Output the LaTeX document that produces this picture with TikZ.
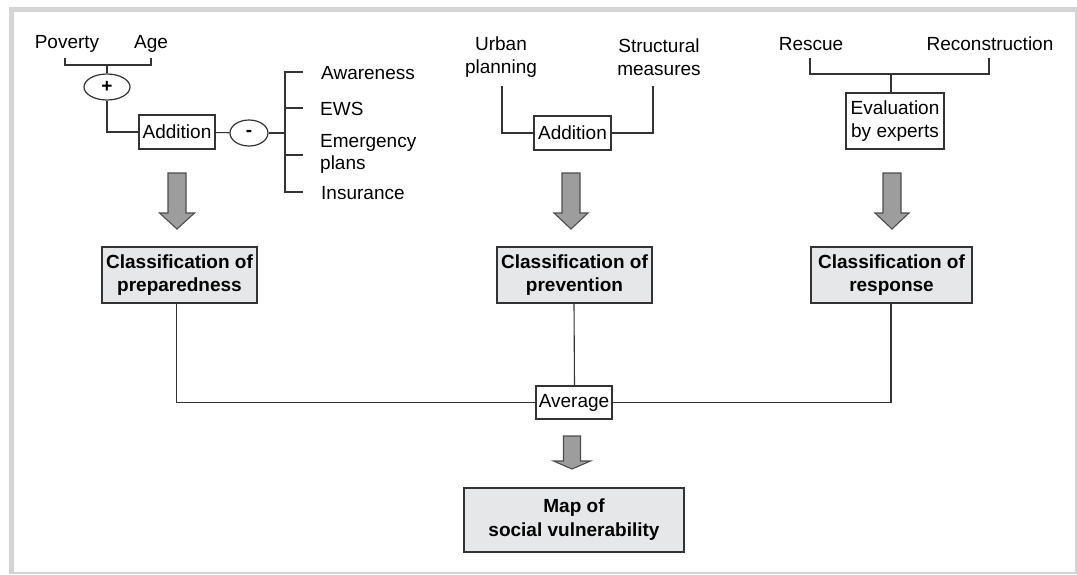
\documentclass[tikz,border=0pt]{standalone}
\usepackage{fontspec}
\setmainfont{Liberation Sans}
\usetikzlibrary{shapes.geometric}
\definecolor{frame}{HTML}{D4D4D4}
\definecolor{ln}{HTML}{333333}
\definecolor{boxfill}{HTML}{E6E7E8}
\definecolor{arrfill}{HTML}{9D9D9D}
\definecolor{arrdraw}{HTML}{4D4D4D}
\newcommand\fatarrow[6]{% x, top, headstart, tip, shaft half, head half
  \filldraw[fill=arrfill,draw=arrdraw,line width=1.1pt,line join=miter]
  ({#1-#5},#2) -- ({#1+#5},#2) -- ({#1+#5},#3) -- ({#1+#6},#3) -- (#1,#4)
  -- ({#1-#6},#3) -- ({#1-#5},#3) -- cycle;}
\begin{document}
\begin{tikzpicture}[x=1pt,y=-1pt,
  every node/.style={font=\fontsize{19}{22.5}\selectfont, text=black},
  lbl/.style={inner sep=0pt, align=center},
  wbox/.style={draw=ln, line width=1.2pt, fill=white, inner sep=0pt, align=center},
  gbox/.style={draw=ln, line width=1.4pt, fill=boxfill, inner sep=0pt, align=center,
     font=\fontsize{19}{22.5}\selectfont\bfseries},
  oval/.style={ellipse, draw=ln, line width=1.2pt, fill=white, inner sep=0pt,
     font=\fontsize{19}{22.5}\selectfont\bfseries},
  conn/.style={draw=ln, line width=1.1pt}]
\useasboundingbox (0,0) rectangle (1077,574);
% frame
\fill[frame] (9,7) rectangle (1077,574);
\fill[white] (14,12) rectangle (1075,572);

% ---------- left: preparedness ----------
\node[lbl] (pov) at (67,44) {Poverty};
\node[lbl] (age) at (151,44) {Age};
\coordinate (pvL) at (65,58);
\coordinate (agR) at (151,58);
\coordinate (pj) at (107,65);
\node[oval, minimum width=46pt, minimum height=26pt] (plus) at (107,87) {+};
\node[wbox, minimum width=76pt, minimum height=34pt] (add1) at (177,132) {Addition};
\node[oval, minimum width=38pt, minimum height=26pt] (minus) at (249,133) {-};
\coordinate (mj) at (285,133);
\coordinate (t1) at (303,72);
\coordinate (t2) at (303,108);
\coordinate (t3) at (303,155);
\coordinate (t4) at (303,192);
\node[lbl, anchor=west] (aw) at (321,73) {Awareness};
\node[lbl, anchor=west] (ews) at (320,109) {EWS};
\node[lbl, anchor=west, align=left] (emp) at (320,154) {Emergency\\plans};
\node[lbl, anchor=west] (ins) at (321,193) {Insurance};

\draw[conn] (pvL) |- (pj) -| (agR);
\draw[conn] (pj) -- (plus);
\draw[conn] (plus) |- (add1);
\draw[conn] (add1) -- (minus);
\draw[draw=ln, line width=2.6pt] (minus) -- (mj);
\draw[conn] (t1) -- ++(-18,0) |- (t4);
\draw[conn] (t2) -- ++(-18,0);
\draw[conn] (t3) -- ++(-18,0);

\fatarrow{177}{173}{213}{229}{9}{17.5}
\node[gbox, minimum width=155pt, minimum height=56pt] (prep) at (179.5,275) {Classification of\\preparedness};

% ---------- middle: prevention ----------
\node[lbl] (urb) at (501,57) {Urban\\planning};
\node[lbl] (str) at (659,57) {Structural\\measures};
\coordinate (u1) at (502,86);
\coordinate (s1) at (653,86);
\node[wbox, minimum width=77pt, minimum height=34pt] (add2) at (572.5,133) {Addition};
\draw[conn] (u1) |- (add2);
\draw[conn] (s1) |- (add2);
\fatarrow{571}{173}{213}{229}{9}{17}
\node[gbox, minimum width=155pt, minimum height=56pt] (prev) at (574.5,275) {Classification of\\prevention};

% ---------- right: response ----------
\node[lbl] (res) at (811,44) {Rescue};
\node[lbl] (rec) at (990,44) {Reconstruction};
\coordinate (r1) at (810,58);
\coordinate (r2) at (989,58);
\coordinate (rj) at (891,74);
\node[wbox, minimum width=98pt, minimum height=56pt] (eval) at (895,121) {Evaluation\\by experts};
\draw[conn] (r1) |- (rj) -| (r2);
\draw[conn] (rj) -- (rj |- eval.north);
\fatarrow{892}{173}{213}{229}{9}{17}
\node[gbox, minimum width=161pt, minimum height=56pt] (resp) at (891.5,275) {Classification of\\response};

% ---------- bottom ----------
\node[wbox, minimum width=76pt, minimum height=33pt] (avg) at (574,402.5) {Average};
\draw[conn] ([xshift=-3pt]prep.south) |- (avg);
\draw[conn] ([xshift=-0.5pt]prev.south) -- (prev.south |- avg.north);
\draw[conn] ([xshift=-0.5pt]resp.south) |- (avg);
\fatarrow{572}{436}{461}{469}{8.5}{18.5}
\node[gbox, minimum width=220pt, minimum height=64pt, font=\fontsize{19}{24}\selectfont\bfseries] (map) at (574,520) {Map of\\social vulnerability};
\end{tikzpicture}
\end{document}
